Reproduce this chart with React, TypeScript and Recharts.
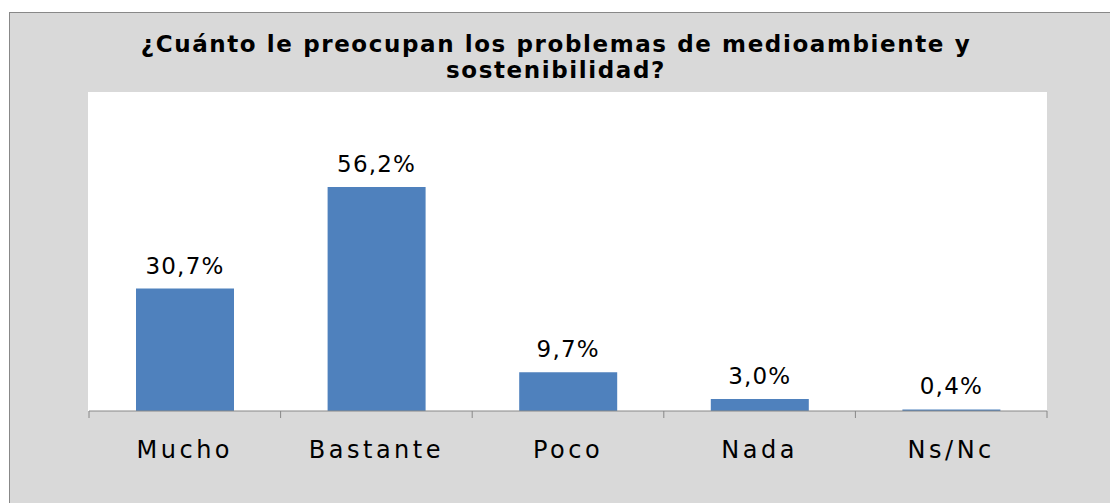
import React from "react";
import { BarChart, Bar, XAxis, YAxis, LabelList } from "recharts";

const categories = ["Mucho", "Bastante", "Poco", "Nada", "Ns/Nc"];
const values = [30.7, 56.2, 9.7, 3.0, 0.4];
const titleLines = [
  "¿Cuánto le preocupan los problemas de medioambiente y",
  "sostenibilidad?",
];

const data = categories.map((c, i) => ({ name: c, value: values[i] }));

const FONT = "'DejaVu Sans', 'Liberation Sans', sans-serif";
const AXIS = "#888";
const fmt = (v: number) => v.toFixed(1).replace(".", ",") + "%";

const CatTick = (props: any) => {
  const count = props.visibleTicksCount || categories.length;
  const band = Number(props.width) / count;
  const x = Number(props.x);
  const y = Number(props.y);
  const isLast = props.index === count - 1;
  return (
    <g>
      <line x1={x - band / 2} x2={x - band / 2} y1={y} y2={y + 7} stroke={AXIS} />
      {isLast && (
        <line x1={x + band / 2} x2={x + band / 2} y1={y} y2={y + 7} stroke={AXIS} />
      )}
      <text
        x={x}
        y={y + 47}
        textAnchor="middle"
        fill="#000"
        fontFamily={FONT}
        fontSize={24}
        letterSpacing={3.5}
      >
        {props.payload.value}
      </text>
    </g>
  );
};

const ValueLabel = (p: any) => (
  <text
    x={Number(p.x) + Number(p.width) / 2}
    y={Number(p.y) - 15}
    textAnchor="middle"
    fill="#000"
    fontFamily={FONT}
    fontSize={23}
    letterSpacing={1.2}
  >
    {fmt(Number(p.value))}
  </text>
);

export default function App() {
  return (
    <div
      style={{
        position: "absolute",
        left: 0,
        top: 0,
        width: 1110,
        height: 503,
        overflow: "hidden",
        background: "#fff",
      }}
    >
      <div
        style={{
          position: "absolute",
          left: 9,
          top: 12,
          width: 1120,
          height: 520,
          background: "#d9d9d9",
          borderLeft: "1px solid #888",
          borderTop: "1px solid #888",
        }}
      />
      <div
        style={{
          position: "absolute",
          left: 88,
          top: 92,
          width: 959,
          height: 319,
          background: "#fff",
        }}
      />
      <svg
        width={1110}
        height={100}
        style={{ position: "absolute", left: 0, top: 0 }}
      >
        {titleLines.map((t, i) => (
          <text
            key={i}
            x={556}
            y={52 + i * 25.6}
            textAnchor="middle"
            fontFamily={FONT}
            fontWeight="bold"
            fontSize={23}
            letterSpacing={1.6}
            fill="#000"
          >
            {t}
          </text>
        ))}
      </svg>
      <div style={{ position: "absolute", left: 0, top: 0 }}>
        <BarChart
          width={1110}
          height={503}
          data={data}
          margin={{ top: 92, left: 89, right: 63, bottom: 32 }}
        >
          <YAxis hide domain={[0, 80]} type="number" />
          <XAxis
            dataKey="name"
            type="category"
            height={60}
            axisLine={{ stroke: AXIS }}
            tickLine={false}
            tickSize={0}
            tickMargin={0}
            tick={CatTick}
            interval={0}
          />
          <Bar
            dataKey="value"
            fill="#4f81bd"
            barSize={98}
            isAnimationActive={false}
          >
            <LabelList dataKey="value" content={ValueLabel} />
          </Bar>
        </BarChart>
      </div>
    </div>
  );
}
